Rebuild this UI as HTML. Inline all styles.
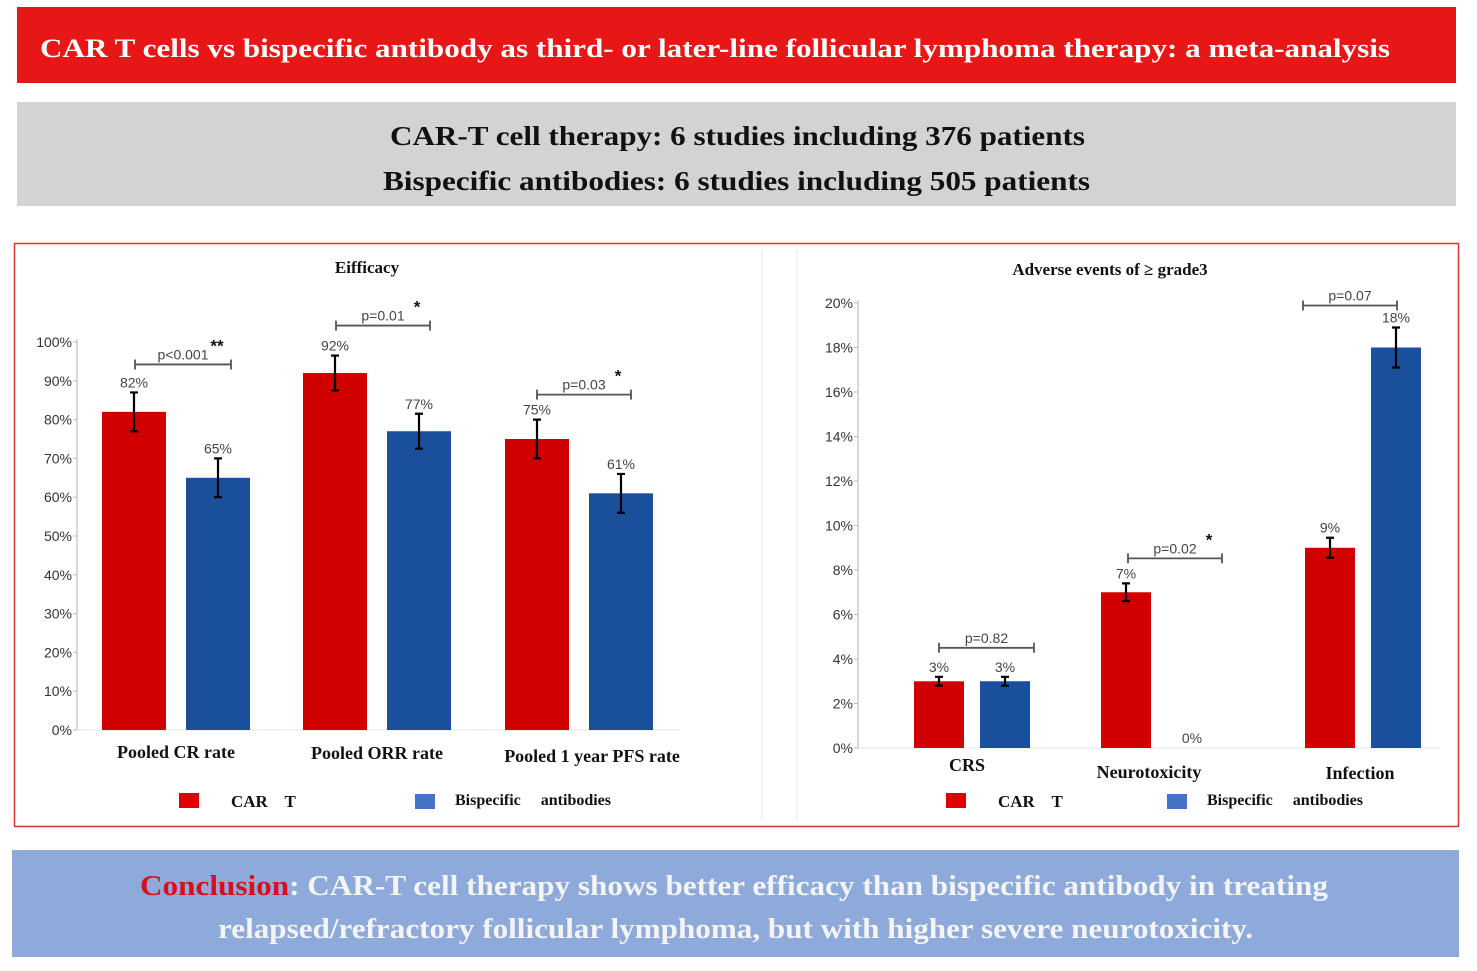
<!DOCTYPE html>
<html><head><meta charset="utf-8"><style>
html,body{margin:0;padding:0;background:#fff;}
svg{display:block;}
.serif{font-family:"Liberation Serif",serif;font-weight:bold;}
.sans{font-family:"Liberation Sans",sans-serif;}
.pre{white-space:pre;}
</style></head><body>
<svg id="root" width="1477" height="971" viewBox="0 0 1477 971" xmlns="http://www.w3.org/2000/svg">
<rect x="17" y="7" width="1439" height="76" fill="#e81717"/>
<text x="40" y="57" class="serif" font-size="26" fill="#fff" textLength="1350" lengthAdjust="spacingAndGlyphs">CAR T cells vs bispecific antibody as third- or later-line follicular lymphoma therapy: a meta-analysis</text>
<rect x="17" y="102" width="1439" height="104" fill="#d3d3d3"/>
<text x="390" y="145" class="serif" font-size="27" fill="#111" textLength="695" lengthAdjust="spacingAndGlyphs">CAR-T cell therapy: 6 studies including 376 patients</text>
<text x="383" y="190" class="serif" font-size="27" fill="#111" textLength="707" lengthAdjust="spacingAndGlyphs">Bispecific antibodies: 6 studies including 505 patients</text>
<rect x="14.5" y="243.5" width="1444" height="583" fill="#fff" stroke="#d33" stroke-width="1.5"/>
<line x1="762" y1="250" x2="762" y2="820" stroke="#e6e6e6" stroke-width="1"/>
<line x1="797" y1="250" x2="797" y2="820" stroke="#e6e6e6" stroke-width="1"/>
<g id="left"></g>
<g id="right"></g>
<rect x="12" y="850" width="1447" height="107" fill="#8eaadb"/>
<text x="140" y="895" class="serif" font-size="28" fill="#f4f4f4" textLength="1188" lengthAdjust="spacingAndGlyphs"><tspan fill="#d80f1a">Conclusion</tspan>: CAR-T cell therapy shows better efficacy than bispecific antibody in treating</text>
<text x="218" y="938" class="serif" font-size="28" fill="#f4f4f4" textLength="1035" lengthAdjust="spacingAndGlyphs">relapsed/refractory follicular lymphoma, but with higher severe neurotoxicity.</text>
</svg>
<script>
// Efficacy chart data
const effCategories = ["Pooled CR rate", "Pooled ORR rate", "Pooled 1 year PFS rate"];
const effCarT = [82, 92, 75];
const effBsab = [65, 77, 61];
const effCarTErr = [5, 4.5, 5];
const effBsabErr = [5, 4.5, 5];
const effPvals = ["p<0.001", "p=0.01", "p=0.03"];
const effStars = ["**", "*", "*"];
const effTicks = [0,10,20,30,40,50,60,70,80,90,100];
// Adverse events chart data
const aeCategories = ["CRS", "Neurotoxicity", "Infection"];
const aeCarT = [3, 7, 9];
const aeBsab = [3, 0, 18];
const aeCarTErr = [0.2, 0.4, 0.45];
const aeBsabErr = [0.2, 0, 0.9];
const aePvals = ["p=0.82", "p=0.02", "p=0.07"];
const aeStars = ["", "*", ""];
const aeTicks = [0,2,4,6,8,10,12,14,16,18,20];

const NS = "http://www.w3.org/2000/svg";
function mk(parent, tag, attrs, text){
  const e = document.createElementNS(NS, tag);
  for (const k in attrs) e.setAttribute(k, attrs[k]);
  if (text !== undefined) e.textContent = text;
  parent.appendChild(e); return e;
}

function drawChart(g, cfg){
  const y = v => cfg.y0 - v / cfg.max * (cfg.y0 - cfg.yTop);
  const t = mk(g, "text", {x: cfg.titleX, y: cfg.titleY, "text-anchor":"middle", class:"serif", "font-size":"17", fill:"#111"}, cfg.title);
  
  
  const ax = mk(g, "line", {x1: cfg.axisX, y1: y(cfg.max)-3, x2: cfg.axisX, y2: cfg.y0, stroke:"#ccc", "stroke-width":"1.5"});
  
  
  const bl = mk(g, "line", {x1: cfg.axisX, y1: cfg.y0, x2: cfg.axisEnd, y2: cfg.y0, stroke:"#e4e4e4", "stroke-width":"1"});
  
  
  cfg.ticks.forEach(v => {
    const tk = mk(g, "line", {x1: cfg.axisX-4, y1: y(v), x2: cfg.axisX, y2: y(v), stroke:"#bbb"});
    
    
    const tl = mk(g, "text", {x: cfg.axisX-5, y: y(v)+5, "text-anchor":"end", class:"sans", "font-size":"14", fill:"#333"}, v + "%");
    
    
  });
  cfg.cats.forEach((c, i) => {
    const xr = cfg.groupX[i], xb = xr + cfg.offset;
    const vals = [cfg.a[i], cfg.b[i]], errs = [cfg.ae[i], cfg.be[i]], xs = [xr, xb];
    const cols = ["#d10000", "#1a4f9c"];
    let tops = [];
    for (let s = 0; s < 2; s++){
      const v = vals[s], x = xs[s];
      if (v > 0){
        const r = mk(g, "rect", {x: x, y: y(v), width: cfg.bw, height: cfg.y0 - y(v), fill: cols[s]});
        
        
      }
      const cx = x + cfg.bw/2;
      let labelY;
      if (errs[s] > 0){
        const e = mk(g, "path", {d: `M${cx-4},${y(v+errs[s])}H${cx+4}M${cx},${y(v+errs[s])}V${y(v-errs[s])}M${cx-4},${y(v-errs[s])}H${cx+4}`, stroke:"#000", "stroke-width":"2.2", fill:"none"});
        
        
        labelY = y(v+errs[s]) - 5;
      } else labelY = y(v) - 5;
      tops.push(labelY);
      const vl = mk(g, "text", {x: cx, y: labelY, "text-anchor":"middle", class:"sans", "font-size":"14", fill:"#444"}, v + "%");
      
      
    }
    const bx1 = xr + cfg.bw/2 + cfg.brL[i], bx2 = xb + cfg.bw/2 + cfg.brR[i];
    const by = Math.min(tops[0], tops[1]) - cfg.brGap[i];
    const br = mk(g, "path", {d: `M${bx1},${by-5}V${by+5}M${bx1},${by}H${bx2}M${bx2},${by-5}V${by+5}`, stroke:"#555", "stroke-width":"1.8", fill:"none"});
    
    
    const pl = mk(g, "text", {x: (bx1+bx2)/2, y: by-5, "text-anchor":"middle", class:"sans", "font-size":"14", fill:"#444"}, cfg.p[i]);
    
    
    if (cfg.stars[i]){
      const st = mk(g, "text", {x: (bx1+bx2)/2 + 34, y: by-13, "text-anchor":"middle", class:"sans", "font-size":"17", "font-weight":"bold", fill:"#111"}, cfg.stars[i]);
      
      
    }
    const cl = mk(g, "text", {x: cfg.catX[i], y: cfg.catY[i], "text-anchor":"middle", class:"serif", "font-size":"18", fill:"#111"}, c);
    
    
  });
  const l1 = mk(g, "rect", {x: cfg.legX[0], y: cfg.legY-14, width: 20, height: 15, fill:"#e00000"});
  
  
  const lt1 = mk(g, "text", {x: cfg.legX[0]+52, y: cfg.legY, class:"serif pre", "font-size":"17", fill:"#111"}, "CAR    T");
  
  
  const l2 = mk(g, "rect", {x: cfg.legX[1], y: cfg.legY-13, width: 20, height: 15, fill:"#4472c4"});
  
  
  const lt2 = mk(g, "text", {x: cfg.legX[1]+40, y: cfg.legY-2, class:"serif pre", "font-size":"16", fill:"#111"}, "Bispecific     antibodies");
  
  
}

drawChart(document.getElementById("left"), {
  title:"Eifficacy", titleX:367, titleY:273, y0:730, yTop:342, max:100, axisX:77, axisEnd:680,
  ticks: effTicks, cats: effCategories, a: effCarT, b: effBsab, ae: effCarTErr, be: effBsabErr,
  p: effPvals, stars: effStars, groupX:[102,303,505], offset:84, bw:64,
  brL:[1,1,0], brR:[13,11,10], brGap:[23,25,20],
  catX:[176,377,592], catY:[758,759,762], legX:[179,415], legY:807
});
drawChart(document.getElementById("right"), {
  title:"Adverse events of \u2265 grade3", titleX:1110, titleY:275, y0:748, yTop:303, max:20, axisX:858, axisEnd:1440,
  ticks: aeTicks, cats: aeCategories, a: aeCarT, b: aeBsab, ae: aeCarTErr, be: aeBsabErr,
  p: aePvals, stars: aeStars, groupX:[914,1101,1305], offset:66, bw:50,
  brL:[0,2,-27], brR:[29,30,1], brGap:[24,20,17],
  catX:[967,1149,1360], catY:[771,778,779], legX:[946,1167], legY:807
});
</script>
</body></html>
